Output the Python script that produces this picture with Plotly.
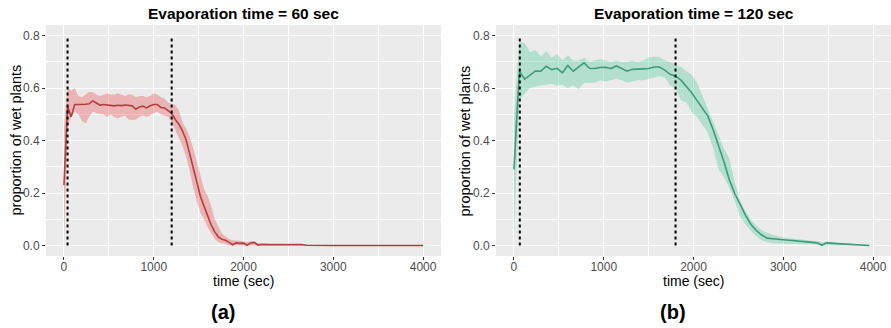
import plotly.graph_objects as go

# ---------------- data: panel (a), evaporation time = 60 sec ----------------
t_a = [0, 40, 80, 120, 160, 200, 240, 280, 320, 360, 400, 440, 480, 520, 560, 600,
       640, 680, 720, 760, 800, 840, 880, 920, 960, 1000, 1040, 1080, 1120, 1160, 1200,
       1240, 1280, 1320, 1360, 1400, 1440, 1480, 1520, 1560, 1600, 1640, 1680, 1720,
       1760, 1800, 1840, 1880, 1920, 1960, 2000, 2040, 2080, 2120, 2160, 2200, 2300,
       2400, 2500, 2600, 2650, 2700, 2800, 3000, 3200, 3400, 3600, 3800, 4000]
mean_a = [0.23, 0.53, 0.49, 0.537, 0.537, 0.537, 0.538, 0.540, 0.551, 0.543, 0.535,
          0.537, 0.535, 0.535, 0.532, 0.534, 0.533, 0.535, 0.533, 0.532, 0.519, 0.528,
          0.531, 0.524, 0.532, 0.537, 0.537, 0.526, 0.524, 0.515, 0.503,
          0.480, 0.462, 0.437, 0.403, 0.350, 0.295, 0.237, 0.188, 0.150, 0.110, 0.078,
          0.052, 0.033, 0.024, 0.020, 0.012, 0.003, 0.010, 0.008, 0.009, 0.001, 0.010,
          0.012, 0.001, 0.004, 0.003, 0.003, 0.002, 0.002, 0.004, 0.001, 0.0, 0.0, 0.0,
          0.0, 0.0, 0.0, 0.0]
upper_a = [0.45, 0.60, 0.59, 0.60, 0.57, 0.565, 0.575, 0.585, 0.585, 0.575, 0.57,
           0.575, 0.58, 0.575, 0.575, 0.58, 0.575, 0.57, 0.575, 0.575, 0.565, 0.57,
           0.57, 0.565, 0.57, 0.58, 0.575, 0.565, 0.56, 0.545, 0.54,
           0.535, 0.515, 0.47, 0.445, 0.415, 0.37, 0.32, 0.27, 0.215, 0.19, 0.15,
           0.10, 0.07, 0.045, 0.035, 0.025, 0.02, 0.02, 0.018, 0.015, 0.012, 0.015,
           0.015, 0.01, 0.01, 0.008, 0.008, 0.006, 0.005, 0.006, 0.003, 0.001, 0.0,
           0.0, 0.0, 0.0, 0.0, 0.0]
lower_a = [0.0, 0.45, 0.49, 0.51, 0.50, 0.475, 0.465, 0.49, 0.51, 0.505, 0.50,
           0.50, 0.49, 0.50, 0.49, 0.485, 0.49, 0.495, 0.48, 0.478, 0.48, 0.49,
           0.495, 0.49, 0.495, 0.505, 0.51, 0.50, 0.495, 0.49, 0.47,
           0.44, 0.41, 0.38, 0.34, 0.285, 0.22, 0.17, 0.125, 0.10, 0.07, 0.045,
           0.025, 0.012, 0.008, 0.006, 0.0, 0.0, 0.0, 0.0, 0.0, 0.0, 0.0,
           0.0, 0.0, 0.0, 0.0, 0.0, 0.0, 0.0, 0.0, 0.0, 0.0, 0.0,
           0.0, 0.0, 0.0, 0.0, 0.0]
vlines_a = [40, 1200]

# ---------------- data: panel (b), evaporation time = 120 sec ----------------
t_b = [0, 60, 120, 180, 240, 300, 360, 420, 480, 540, 600, 660, 720, 780, 840, 900,
       960, 1020, 1080, 1140, 1200, 1260, 1320, 1380, 1440, 1500, 1560, 1620, 1680,
       1740, 1800, 1860, 1920, 1980, 2040, 2100, 2160, 2220, 2280, 2340, 2400, 2460,
       2520, 2580, 2640, 2700, 2760, 2820, 2880, 2940, 3000, 3100, 3200, 3300, 3380,
       3430, 3480, 3600, 3720, 3840, 3960]
mean_b = [0.29, 0.664, 0.634, 0.649, 0.665, 0.664, 0.683, 0.670, 0.675, 0.658, 0.686,
          0.664, 0.680, 0.696, 0.675, 0.674, 0.678, 0.679, 0.674, 0.684, 0.674, 0.664,
          0.671, 0.673, 0.673, 0.674, 0.680, 0.680, 0.668, 0.652, 0.645, 0.630, 0.608,
          0.582, 0.552, 0.520, 0.493, 0.440, 0.380, 0.318, 0.250, 0.197, 0.157, 0.115,
          0.080, 0.057, 0.040, 0.028, 0.026, 0.025, 0.022, 0.019, 0.016, 0.012, 0.010,
          0.001, 0.010, 0.007, 0.005, 0.003, 0.0]
upper_b = [0.50, 0.776, 0.77, 0.737, 0.745, 0.72, 0.74, 0.715, 0.73, 0.705, 0.725,
           0.705, 0.705, 0.715, 0.70, 0.705, 0.71, 0.705, 0.70, 0.705, 0.70, 0.70,
           0.705, 0.70, 0.705, 0.715, 0.72, 0.718, 0.705, 0.70, 0.69, 0.68, 0.665,
           0.65, 0.62, 0.57, 0.52, 0.47, 0.42, 0.37, 0.33, 0.24, 0.17, 0.13,
           0.10, 0.075, 0.058, 0.048, 0.04, 0.035, 0.03, 0.027, 0.024, 0.02, 0.016,
           0.012, 0.014, 0.01, 0.008, 0.005, 0.002]
lower_b = [0.03, 0.553, 0.58, 0.60, 0.605, 0.61, 0.613, 0.615, 0.61, 0.612, 0.60,
           0.61, 0.595, 0.62, 0.62, 0.62, 0.63, 0.625, 0.63, 0.635, 0.63, 0.62,
           0.625, 0.63, 0.63, 0.635, 0.64, 0.645, 0.64, 0.61, 0.60, 0.553, 0.545,
           0.51, 0.49, 0.46, 0.43, 0.37, 0.29, 0.26, 0.22, 0.17, 0.11, 0.08,
           0.055, 0.035, 0.02, 0.012, 0.008, 0.007, 0.006, 0.005, 0.005, 0.005, 0.004,
           0.0, 0.002, 0.0, 0.0, 0.0, 0.0]
vlines_b = [65, 1800]

titles = ["Evaporation time = 60 sec", "Evaporation time = 120 sec"]
labels = ["(a)", "(b)"]
x_ticks = [0, 1000, 2000, 3000, 4000]
y_ticks = [0.0, 0.2, 0.4, 0.6, 0.8]
y_tick_text = ["0.0", "0.2", "0.4", "0.6", "0.8"]

FONT = "Liberation Sans, Arial, sans-serif"
BG = "#EBEBEB"

panels = [
    dict(t=t_a, m=mean_a, up=upper_a, lo=lower_a, v=vlines_a,
         line="#B04040", fill="rgba(235,95,95,0.40)", xa="x", ya="y"),
    dict(t=t_b, m=mean_b, up=upper_b, lo=lower_b, v=vlines_b,
         line="#3E9B79", fill="rgba(95,205,165,0.40)", xa="x2", ya="y2"),
]

fig = go.Figure()
for p in panels:
    fig.add_trace(go.Scatter(
        x=p["t"] + p["t"][::-1], y=p["up"] + p["lo"][::-1],
        fill="toself", fillcolor=p["fill"], line=dict(width=0),
        mode="lines", hoverinfo="skip", showlegend=False,
        xaxis=p["xa"], yaxis=p["ya"]))
    fig.add_trace(go.Scatter(
        x=p["t"], y=p["m"], mode="lines",
        line=dict(color=p["line"], width=1.6),
        showlegend=False, xaxis=p["xa"], yaxis=p["ya"]))
    for vx in p["v"]:
        fig.add_trace(go.Scatter(
            x=[vx, vx], y=[0.0, 0.8], mode="lines",
            line=dict(color="black", width=2, dash="dot"),
            showlegend=False, xaxis=p["xa"], yaxis=p["ya"]))

xdom = [[46 / 891, 441 / 891], [496 / 891, 1.0]]
ydom = [(328 - 256) / 328, (328 - 25) / 328]

axis_common = dict(
    showgrid=True, gridcolor="white", gridwidth=1.1,
    zeroline=False, showline=False,
    ticks="outside", ticklen=3, tickcolor="#333333", tickwidth=1,
    tickfont=dict(family=FONT, size=12, color="#4D4D4D"),
    minor=dict(showgrid=True, gridcolor="white", gridwidth=0.5, ticks=""),
)

layout = dict(
    width=891, height=328,
    margin=dict(l=0, r=0, t=0, b=0),
    paper_bgcolor="white", plot_bgcolor=BG,
    font=dict(family=FONT),
)
for i, suf in enumerate(["", "2"]):
    layout["xaxis" + suf] = dict(
        axis_common, domain=xdom[i], range=[-200, 4200],
        tickvals=x_ticks, ticktext=[str(v) for v in x_ticks],
        ticklabelstandoff=-3,
        minor=dict(axis_common["minor"], dtick=500, tick0=500),
        anchor="y" + suf)
    layout["yaxis" + suf] = dict(
        axis_common, domain=ydom, range=[-0.04, 0.84],
        tickvals=y_ticks, ticktext=y_tick_text,
        minor=dict(axis_common["minor"], dtick=0.1, tick0=0.1),
        anchor="x" + suf)

fig.update_layout(**layout)

for i in range(2):
    cx = (xdom[i][0] + xdom[i][1]) / 2
    fig.add_annotation(text="<b>" + titles[i] + "</b>", x=cx, y=1 - 13 / 328,
                       xref="paper", yref="paper", showarrow=False,
                       font=dict(family=FONT, size=15.5, color="black"),
                       xanchor="center", yanchor="middle")
    fig.add_annotation(text="time (sec)", x=cx, y=1 - 281 / 328,
                       xref="paper", yref="paper", showarrow=False,
                       font=dict(family=FONT, size=14, color="black"),
                       xanchor="center", yanchor="middle")
    fig.add_annotation(text="<b>" + labels[i] + "</b>",
                       x=(223 if i == 0 else 673) / 891, y=1 - 312 / 328,
                       xref="paper", yref="paper", showarrow=False,
                       font=dict(family=FONT, size=20, color="black"),
                       xanchor="center", yanchor="middle")
    fig.add_annotation(text="proportion of wet plants",
                       x=(15 if i == 0 else 464) / 891,
                       y=(ydom[0] + ydom[1]) / 2,
                       xref="paper", yref="paper", showarrow=False, textangle=-90,
                       font=dict(family=FONT, size=14.5, color="black"),
                       xanchor="center", yanchor="middle")

fig.write_html("out.html")
